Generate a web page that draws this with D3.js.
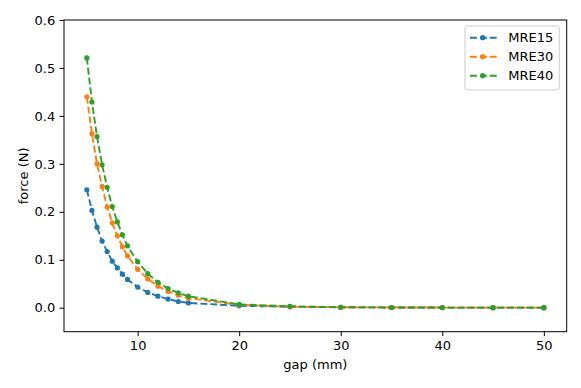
<!DOCTYPE html>
<html>
<head>
<meta charset="utf-8">
<script src="https://cdn.jsdelivr.net/npm/d3@7"></script>
<style>
  body { margin: 0; background: #fff; }
  svg text { font-family: "DejaVu Sans", sans-serif; fill: #000; }
</style>
</head>
<body>
<svg id="graph" width="581" height="388"></svg>
<script>
// gap in mm, force in N
var gap = [5, 5.5, 6, 6.5, 7, 7.5, 8, 8.5, 9, 10, 11, 12, 13, 14, 15, 20, 25, 30, 35, 40, 45, 50]
var mre15 = [0.246, 0.203, 0.168, 0.139, 0.117, 0.097, 0.083, 0.070, 0.059, 0.043, 0.032, 0.024, 0.018, 0.013, 0.010, 0.004, 0.002, 0.001, 0.0005, 0.0003, 0.0002, 0.0001]
var mre30 = [0.440, 0.363, 0.300, 0.253, 0.210, 0.177, 0.150, 0.127, 0.108, 0.080, 0.060, 0.045, 0.034, 0.026, 0.020, 0.006, 0.002, 0.001, 0.0005, 0.0003, 0.0002, 0.0001]
var mre40 = [0.521, 0.429, 0.357, 0.298, 0.251, 0.211, 0.179, 0.152, 0.129, 0.096, 0.071, 0.053, 0.040, 0.031, 0.024, 0.007, 0.003, 0.001, 0.0005, 0.0003, 0.0002, 0.0001]
var names = ["MRE15", "MRE30", "MRE40"]
var colors = ["#1f77b4", "#ff7f0e", "#2ca02c"]
var xTicks = [10, 20, 30, 40, 50]
var yTicks = [0.0, 0.1, 0.2, 0.3, 0.4, 0.5, 0.6]

var margin = { top: 20, right: 14.3, bottom: 56.3, left: 64 }
var width = 581 - margin.left - margin.right
var height = 388 - margin.top - margin.bottom
var fs = 13

var svg = d3.select("#graph").append("g")
    .attr("transform", "translate(" + margin.left + "," + margin.top + ")")

var xScale = d3.scaleLinear().domain([2.75, 52.25]).range([0, width])
var yScale = d3.scaleLinear().domain([-0.05, 0.6]).range([height, 0])

var xAxis = svg.append("g")
    .attr("transform", "translate(0," + height + ")")
    .call(d3.axisBottom(xScale).tickValues(xTicks).tickFormat(d3.format("d")).tickSizeOuter(0).tickSize(4.4).tickPadding(4.4))
var yAxis = svg.append("g")
    .call(d3.axisLeft(yScale).tickValues(yTicks).tickFormat(d3.format(".1f")).tickSizeOuter(0).tickSize(4.4).tickPadding(4.4))

;[xAxis, yAxis].forEach(a => {
    a.select(".domain").remove()
    a.selectAll("line").attr("stroke", "#000").attr("stroke-width", 1)
    a.selectAll("text").attr("font-size", fs).attr("font-family", "DejaVu Sans")
})

// frame
svg.append("rect")
    .attr("x", 0).attr("y", 0)
    .attr("width", width).attr("height", height)
    .attr("fill", "none").attr("stroke", "#000").attr("stroke-width", 1)

var series = [mre15, mre30, mre40]
var line = d3.line()
    .x((d, i) => xScale(gap[i]))
    .y(d => yScale(d))

series.forEach((s, k) => {
    svg.append("path")
        .datum(s)
        .attr("fill", "none")
        .attr("stroke", colors[k])
        .attr("stroke-width", 1.9)
        .attr("stroke-dasharray", "6.9,3")
        .attr("d", line)
    svg.selectAll(".dot" + k)
        .data(s)
        .enter().append("circle")
        .attr("class", "dot" + k)
        .attr("cx", (d, i) => xScale(gap[i]))
        .attr("cy", d => yScale(d))
        .attr("r", 2.6)
        .attr("fill", colors[k])
})

// axis labels
svg.append("text")
    .attr("x", width / 2).attr("y", 369 - margin.top)
    .attr("text-anchor", "middle")
    .attr("font-size", fs)
    .text("gap (mm)")
svg.append("text")
    .attr("transform", "translate(" + (27.5 - margin.left) + "," + height / 2 + ") rotate(-90)")
    .attr("text-anchor", "middle")
    .attr("font-size", fs)
    .text("force (N)")

// legend
var lg = svg.append("g").attr("transform", "translate(" + (465 - margin.left) + "," + (26 - margin.top) + ")")
lg.append("rect")
    .attr("width", 94.3).attr("height", 64)
    .attr("rx", 2.5)
    .attr("fill", "#fff").attr("fill-opacity", 0.8)
    .attr("stroke", "#ccc").attr("stroke-width", 1)
names.forEach((n, k) => {
    var yy = 11.7 + k * 19
    lg.append("line")
        .attr("x1", 5).attr("x2", 32.3)
        .attr("y1", yy).attr("y2", yy)
        .attr("stroke", colors[k]).attr("stroke-width", 1.9)
        .attr("stroke-dasharray", "6.9,3")
    lg.append("circle")
        .attr("cx", 17.7).attr("cy", yy).attr("r", 2.6)
        .attr("fill", colors[k])
    lg.append("text")
        .attr("x", 43.3).attr("y", yy)
        .attr("dy", "0.36em")
        .attr("font-size", fs)
        .text(n)
})
</script>
</body>
</html>
